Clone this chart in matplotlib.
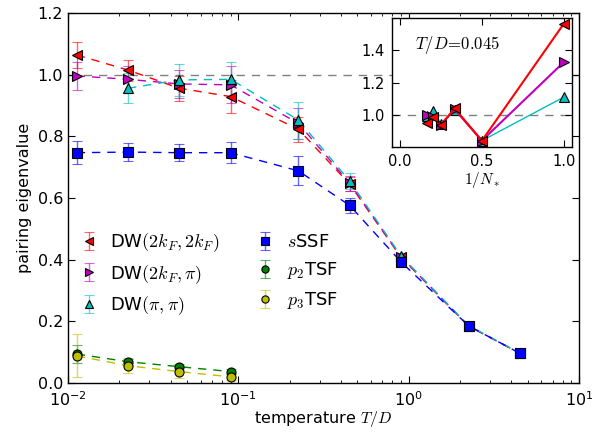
import matplotlib
matplotlib.use("Agg")
import matplotlib.pyplot as plt
import numpy as np

plt.rcParams.update({
    "mathtext.fontset": "cm",
    "font.size": 11.5,
    "xtick.direction": "in",
    "ytick.direction": "in",
    "xtick.top": True,
    "ytick.right": True,
    "xtick.major.size": 5,
    "xtick.minor.size": 2.5,
    "ytick.major.size": 5,
    "axes.linewidth": 1.0,
})

# main panel data
temps = [0.01125, 0.0225, 0.045, 0.09, 0.225, 0.45, 0.9, 2.25, 4.5]
dw_2kf2kf = [1.064, 1.015, 0.956, 0.929, 0.823, 0.645, 0.408, 0.184, 0.096]
dw_2kf2kf_err = [0.043, 0.034, 0.040, 0.053, 0.040, 0.022, 0.005, 0.003, 0.002]
dw_2kfpi = [0.996, 0.985, 0.970, 0.967, 0.842, 0.648, 0.410, 0.185, 0.096]
dw_2kfpi_err = [0.045, 0.043, 0.045, 0.060, 0.050, 0.025, 0.005, 0.003, 0.002]
temps_pipi = temps[1:]
dw_pipi = [0.956, 0.983, 0.985, 0.853, 0.655, 0.412, 0.186, 0.097]
dw_pipi_err = [0.048, 0.052, 0.056, 0.060, 0.027, 0.005, 0.003, 0.002]
sssf = [0.747, 0.749, 0.747, 0.747, 0.688, 0.576, 0.393, 0.185, 0.096]
sssf_err = [0.038, 0.030, 0.028, 0.035, 0.047, 0.025, 0.005, 0.003, 0.002]
temps_tsf = temps[:4]
p2_tsf = [0.094, 0.069, 0.053, 0.037]
p2_tsf_err = [0.030, 0.010, 0.010, 0.008]
p3_tsf = [0.088, 0.056, 0.037, 0.020]
p3_tsf_err = [0.070, 0.025, 0.020, 0.010]

# inset data (T/D = 0.045)
inv_n = [1 / 6, 1 / 5, 1 / 4, 1 / 3, 1 / 2, 1.0]
ins_2kf2kf = [0.950, 0.985, 0.938, 1.040, 0.840, 1.565]
ins_2kfpi = [1.000, 0.990, 0.940, 1.035, 0.840, 1.327]
ins_pipi = [0.995, 1.025, 0.944, 1.033, 0.840, 1.110]

series = [
    (temps, dw_2kf2kf, dw_2kf2kf_err, "r", "<", 7, r"DW$(2k_F,2k_F)$"),
    (temps, dw_2kfpi, dw_2kfpi_err, "m", ">", 7, r"DW$(2k_F,\pi)$"),
    (temps_pipi, dw_pipi, dw_pipi_err, "c", "^", 7, r"DW$(\pi,\pi)$"),
    (temps, sssf, sssf_err, "b", "s", 6.5, r"$s$SSF"),
    (temps_tsf, p2_tsf, p2_tsf_err, "g", "o", 6.5, r"$p_2$TSF"),
    (temps_tsf, p3_tsf, p3_tsf_err, "y", "o", 6.5, r"$p_3$TSF"),
]

fig = plt.figure(figsize=(6.02, 4.34), dpi=100)
ax = fig.add_axes([0.113, 0.1175, 0.849, 0.8525])

ax.axhline(1.0, color="gray", ls="--", lw=1.0, dashes=(6, 5), zorder=1)

for x, y, e, c, m, ms, lab in series:
    ax.plot(x, y, color=c, ls="--", dashes=(6, 5), lw=1.0, zorder=2)
    cont = ax.errorbar(x, y, yerr=e, fmt=m, color=c, mfc=c, mec="k",
                       mew=0.8, ms=ms, capsize=3.5, elinewidth=1.0,
                       ecolor=c, label=lab, zorder=3)
    for art in list(cont[1]) + list(cont[2]):
        art.set_alpha(0.6)

ax.set_xscale("log")
ax.set_xlim(1e-2, 1e1)
ax.set_ylim(0.0, 1.2)
ax.set_yticks(np.arange(0, 1.21, 0.2))
ax.set_xlabel(r"temperature $T/D$", labelpad=0)
ax.set_ylabel("pairing eigenvalue")
ax.tick_params(axis="x", which="major", pad=5.5)

ax.legend(loc="upper left", bbox_to_anchor=(0.005, 0.43), ncol=2,
          frameon=False, numpoints=1, fontsize=13, handlelength=1.2,
          handletextpad=0.6, labelspacing=0.5, columnspacing=1.9,
          borderaxespad=0, markerscale=0.8)

# inset
ins = fig.add_axes([0.651, 0.661, 0.299, 0.297])
ins.axhline(1.0, color="gray", ls="--", lw=1.0, dashes=(6, 5), zorder=1)
for y, c, m, lw in [(ins_pipi, "c", "^", 1.0), (ins_2kfpi, "m", ">", 1.5),
                    (ins_2kf2kf, "r", "<", 1.5)]:
    ins.plot(inv_n, y, color=c, marker=m, mfc=c, mec="k", mew=0.8,
             ms=7, lw=lw)
ins.set_xlim(-0.05, 1.05)
ins.set_ylim(0.8, 1.6)
ins.set_xticks([0.0, 0.5, 1.0])
ins.set_yticks([1.0, 1.2, 1.4])
ins.tick_params(labelsize=10.5, pad=5)
ins.set_xlabel(r"$1/N_*$", fontsize=11, labelpad=1)
ins.text(0.13, 0.79, r"$T/D\!=\!0.045$", transform=ins.transAxes,
         fontsize=12, va="center")

fig.savefig("out.png", dpi=100, facecolor="white")
